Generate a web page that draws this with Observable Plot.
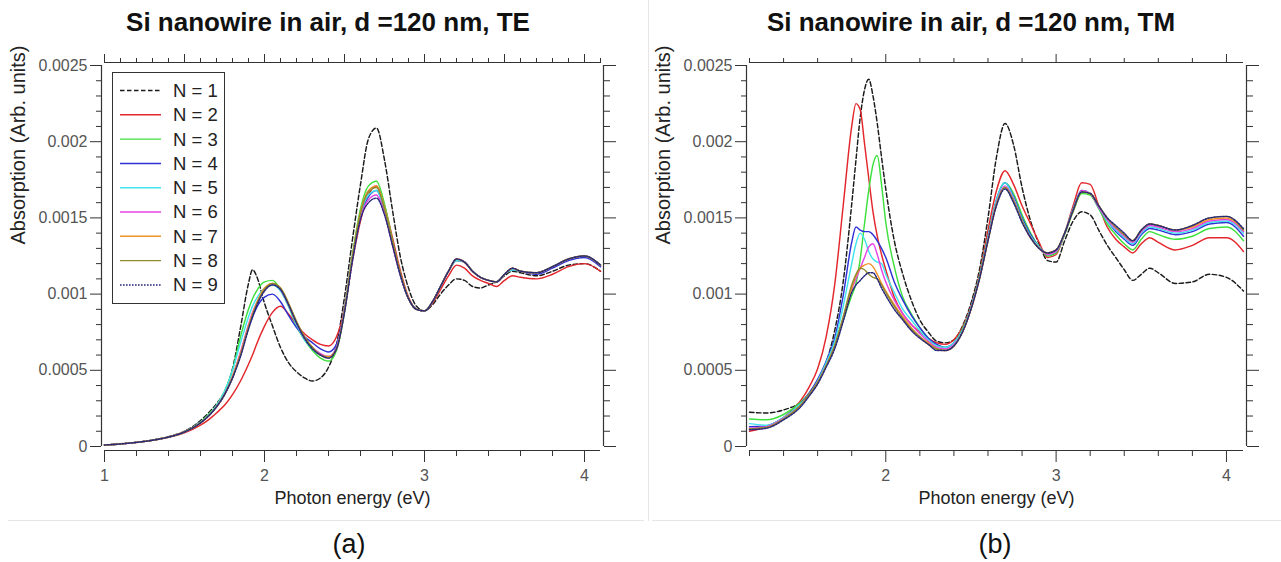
<!DOCTYPE html>
<html><head><meta charset="utf-8">
<script src="https://cdn.jsdelivr.net/npm/d3@7"></script>
<script src="https://cdn.jsdelivr.net/npm/@observablehq/plot@0.6"></script>
<style>
body{margin:0;background:#fff;font-family:"Liberation Sans",Arial,sans-serif;}
#root{position:relative;width:1281px;height:562px;overflow:hidden;background:#fff;}
.title{position:absolute;top:7px;font-weight:bold;font-size:26px;line-height:31px;white-space:nowrap;transform:translateX(-50%);color:#111;}
.cap{position:absolute;top:528px;font-size:27px;line-height:32px;white-space:nowrap;transform:translateX(-50%);color:#111;}
.sep{position:absolute;background:#e6e6e6;}
.panel{position:absolute;top:40px;}
.legend{position:absolute;left:112px;top:72px;width:113px;height:232px;border:1.5px solid #333;box-sizing:border-box;background:#fff;}
</style></head>
<body><div id="root"></div>
<script>
// ---------- data ----------
const seriesLabels = ["N = 1","N = 2","N = 3","N = 4","N = 5","N = 6","N = 7","N = 8","N = 9"];

// (a) TE
const teEnergy = [1.0,1.1,1.2,1.3,1.4,1.5,1.6,1.65,1.7,1.75,1.8,1.85,1.9,1.925,1.95,2.0,2.05,2.1,2.15,2.2,2.25,2.3,2.35,2.4,2.45,2.5,2.55,2.6,2.65,2.7,2.75,2.8,2.85,2.9,2.95,3.0,3.05,3.1,3.15,3.2,3.25,3.3,3.35,3.4,3.45,3.5,3.55,3.6,3.7,3.8,3.9,4.0,4.1];
const teN1 = [0.1e-4,0.18e-4,0.28e-4,0.42e-4,0.65e-4,1.0e-4,1.7e-4,2.2e-4,2.8e-4,3.6e-4,5.1e-4,7.8e-4,10.7e-4,11.6e-4,11.2e-4,9.4e-4,7.9e-4,6.5e-4,5.5e-4,4.9e-4,4.5e-4,4.3e-4,4.5e-4,5.2e-4,6.7e-4,9.8e-4,13.6e-4,17.2e-4,20.2e-4,20.9e-4,18.8e-4,15.5e-4,12.4e-4,10.4e-4,9.2e-4,8.9e-4,9.3e-4,10.0e-4,10.6e-4,11.0e-4,10.9e-4,10.5e-4,10.4e-4,10.6e-4,10.8e-4,11.2e-4,11.5e-4,11.4e-4,11.2e-4,11.5e-4,11.9e-4,12.0e-4,11.5e-4];
const teN2 = [0.1e-4,0.16e-4,0.26e-4,0.4e-4,0.6e-4,0.9e-4,1.4e-4,1.75e-4,2.2e-4,2.7e-4,3.4e-4,4.3e-4,5.4e-4,6.0e-4,6.7e-4,7.9e-4,8.8e-4,9.2e-4,8.7e-4,8.0e-4,7.4e-4,7.0e-4,6.7e-4,6.6e-4,7.2e-4,9.0e-4,12.2e-4,14.8e-4,16.5e-4,17.1e-4,15.8e-4,13.7e-4,11.5e-4,9.8e-4,9.0e-4,8.9e-4,9.4e-4,10.3e-4,11.2e-4,11.9e-4,11.7e-4,11.2e-4,10.9e-4,10.7e-4,10.5e-4,10.9e-4,11.2e-4,11.1e-4,11.0e-4,11.3e-4,11.8e-4,12.0e-4,11.5e-4];
const teN3 = [0.1e-4,0.17e-4,0.27e-4,0.41e-4,0.62e-4,0.95e-4,1.6e-4,2.1e-4,2.7e-4,3.6e-4,5.0e-4,7.2e-4,9.0e-4,9.7e-4,10.2e-4,10.8e-4,10.9e-4,10.3e-4,9.2e-4,7.9e-4,7.0e-4,6.3e-4,5.8e-4,5.6e-4,6.3e-4,8.8e-4,12.6e-4,15.6e-4,17.1e-4,17.4e-4,15.9e-4,13.5e-4,11.3e-4,9.7e-4,9.0e-4,8.9e-4,9.5e-4,10.5e-4,11.5e-4,12.2e-4,12.1e-4,11.5e-4,11.1e-4,10.9e-4,10.8e-4,11.3e-4,11.6e-4,11.5e-4,11.4e-4,11.8e-4,12.3e-4,12.5e-4,11.9e-4];
const teN4 = [0.1e-4,0.17e-4,0.27e-4,0.41e-4,0.62e-4,0.95e-4,1.55e-4,2.0e-4,2.6e-4,3.4e-4,4.5e-4,6.1e-4,7.8e-4,8.5e-4,9.1e-4,9.8e-4,10.0e-4,9.5e-4,8.6e-4,7.8e-4,7.2e-4,6.8e-4,6.4e-4,6.2e-4,6.7e-4,9.0e-4,12.4e-4,15.1e-4,16.4e-4,16.8e-4,15.5e-4,13.3e-4,11.2e-4,9.7e-4,9.0e-4,8.9e-4,9.5e-4,10.5e-4,11.5e-4,12.2e-4,12.1e-4,11.5e-4,11.1e-4,10.9e-4,10.8e-4,11.3e-4,11.6e-4,11.5e-4,11.3e-4,11.7e-4,12.2e-4,12.4e-4,11.8e-4];
const teN5 = [0.1e-4,0.17e-4,0.27e-4,0.41e-4,0.62e-4,0.95e-4,1.6e-4,2.05e-4,2.7e-4,3.6e-4,5.0e-4,6.8e-4,8.5e-4,9.2e-4,9.7e-4,10.4e-4,10.6e-4,10.2e-4,9.2e-4,8.0e-4,7.0e-4,6.4e-4,6.0e-4,5.9e-4,6.5e-4,8.9e-4,12.5e-4,15.2e-4,16.5e-4,16.8e-4,15.5e-4,13.3e-4,11.2e-4,9.7e-4,9.0e-4,8.9e-4,9.5e-4,10.5e-4,11.5e-4,12.2e-4,12.1e-4,11.5e-4,11.1e-4,10.9e-4,10.8e-4,11.3e-4,11.6e-4,11.5e-4,11.4e-4,11.8e-4,12.3e-4,12.5e-4,11.9e-4];
const teN6 = [0.1e-4,0.17e-4,0.27e-4,0.41e-4,0.62e-4,0.95e-4,1.55e-4,2.0e-4,2.6e-4,3.4e-4,4.6e-4,6.2e-4,8.0e-4,8.8e-4,9.4e-4,10.3e-4,10.7e-4,10.3e-4,9.3e-4,8.1e-4,7.1e-4,6.5e-4,6.1e-4,5.9e-4,6.5e-4,8.9e-4,12.3e-4,15.0e-4,16.2e-4,16.5e-4,15.3e-4,13.2e-4,11.2e-4,9.7e-4,9.0e-4,8.9e-4,9.5e-4,10.5e-4,11.5e-4,12.3e-4,12.1e-4,11.5e-4,11.1e-4,10.9e-4,10.8e-4,11.3e-4,11.7e-4,11.5e-4,11.4e-4,11.8e-4,12.3e-4,12.5e-4,11.9e-4];
const teN7 = [0.1e-4,0.17e-4,0.27e-4,0.41e-4,0.62e-4,0.95e-4,1.55e-4,2.0e-4,2.6e-4,3.4e-4,4.6e-4,6.1e-4,7.9e-4,8.7e-4,9.4e-4,10.4e-4,10.7e-4,10.4e-4,9.4e-4,8.2e-4,7.2e-4,6.5e-4,6.0e-4,5.9e-4,6.4e-4,8.9e-4,12.5e-4,15.4e-4,16.8e-4,17.1e-4,15.7e-4,13.4e-4,11.3e-4,9.7e-4,9.0e-4,8.9e-4,9.5e-4,10.5e-4,11.5e-4,12.3e-4,12.1e-4,11.5e-4,11.1e-4,10.9e-4,10.8e-4,11.3e-4,11.7e-4,11.5e-4,11.4e-4,11.8e-4,12.3e-4,12.5e-4,11.9e-4];
const teN8 = [0.1e-4,0.17e-4,0.27e-4,0.41e-4,0.62e-4,0.95e-4,1.55e-4,2.0e-4,2.6e-4,3.4e-4,4.5e-4,6.0e-4,7.8e-4,8.6e-4,9.3e-4,10.3e-4,10.7e-4,10.4e-4,9.4e-4,8.2e-4,7.2e-4,6.5e-4,6.0e-4,5.8e-4,6.4e-4,8.9e-4,12.5e-4,15.3e-4,16.7e-4,17.0e-4,15.6e-4,13.4e-4,11.3e-4,9.7e-4,9.0e-4,8.9e-4,9.5e-4,10.5e-4,11.5e-4,12.3e-4,12.1e-4,11.5e-4,11.1e-4,10.9e-4,10.8e-4,11.3e-4,11.7e-4,11.5e-4,11.4e-4,11.8e-4,12.3e-4,12.5e-4,11.9e-4];
const teN9 = [0.1e-4,0.17e-4,0.27e-4,0.41e-4,0.62e-4,0.95e-4,1.55e-4,2.0e-4,2.6e-4,3.4e-4,4.5e-4,5.9e-4,7.7e-4,8.5e-4,9.2e-4,10.2e-4,10.6e-4,10.3e-4,9.3e-4,8.1e-4,7.1e-4,6.4e-4,6.0e-4,5.8e-4,6.4e-4,8.8e-4,12.2e-4,14.9e-4,16.0e-4,16.3e-4,15.2e-4,13.2e-4,11.2e-4,9.7e-4,9.0e-4,8.9e-4,9.5e-4,10.5e-4,11.5e-4,12.3e-4,12.1e-4,11.5e-4,11.1e-4,10.9e-4,10.8e-4,11.3e-4,11.7e-4,11.5e-4,11.4e-4,11.8e-4,12.3e-4,12.5e-4,11.9e-4];

// (b) TM
const tmEnergy = [1.2,1.3,1.4,1.5,1.55,1.6,1.65,1.7,1.75,1.8,1.825,1.85,1.875,1.9,1.925,1.95,1.975,2.0,2.05,2.1,2.15,2.2,2.25,2.3,2.35,2.4,2.45,2.5,2.55,2.6,2.65,2.7,2.75,2.8,2.85,2.9,2.95,3.0,3.05,3.1,3.15,3.2,3.25,3.3,3.35,3.4,3.45,3.5,3.55,3.6,3.7,3.8,3.9,4.0,4.1];
const tmN1 = [2.25e-4,2.2e-4,2.4e-4,2.9e-4,3.4e-4,4.2e-4,5.5e-4,7.6e-4,10.8e-4,15.9e-4,18.8e-4,21.6e-4,23.4e-4,24.1e-4,23.0e-4,21.2e-4,19.0e-4,16.9e-4,13.5e-4,11.3e-4,9.6e-4,8.3e-4,7.5e-4,6.9e-4,6.8e-4,7.0e-4,7.9e-4,9.4e-4,11.6e-4,15.0e-4,19.0e-4,21.2e-4,19.8e-4,17.0e-4,14.8e-4,13.3e-4,12.2e-4,12.1e-4,13.5e-4,14.8e-4,15.4e-4,15.2e-4,14.2e-4,13.2e-4,12.4e-4,11.6e-4,10.9e-4,11.3e-4,11.7e-4,11.4e-4,10.7e-4,10.8e-4,11.3e-4,11.1e-4,10.2e-4];
const tmN2 = [1.0e-4,1.3e-4,1.9e-4,3.0e-4,3.9e-4,5.1e-4,7.2e-4,10.6e-4,15.8e-4,21.0e-4,22.5e-4,22.1e-4,19.9e-4,17.6e-4,15.4e-4,13.8e-4,12.6e-4,11.6e-4,9.8e-4,8.7e-4,8.0e-4,7.5e-4,7.1e-4,6.8e-4,6.7e-4,7.0e-4,7.8e-4,9.2e-4,11.3e-4,14.2e-4,16.8e-4,18.1e-4,17.2e-4,15.8e-4,14.6e-4,13.4e-4,12.4e-4,12.6e-4,14.0e-4,15.8e-4,17.3e-4,17.2e-4,15.8e-4,14.4e-4,13.6e-4,13.1e-4,12.7e-4,13.3e-4,13.7e-4,13.4e-4,12.9e-4,13.2e-4,13.7e-4,13.7e-4,12.8e-4];
const tmN3 = [1.8e-4,1.75e-4,2.1e-4,2.9e-4,3.5e-4,4.3e-4,5.4e-4,6.8e-4,8.3e-4,9.9e-4,10.7e-4,12.3e-4,14.6e-4,16.8e-4,18.5e-4,19.1e-4,17.2e-4,14.7e-4,11.8e-4,9.8e-4,8.7e-4,7.8e-4,7.1e-4,6.6e-4,6.5e-4,6.8e-4,7.7e-4,9.1e-4,11.2e-4,13.8e-4,16.2e-4,17.3e-4,16.6e-4,15.2e-4,14.0e-4,13.1e-4,12.5e-4,12.7e-4,13.9e-4,15.4e-4,16.6e-4,16.5e-4,15.6e-4,14.6e-4,13.9e-4,13.3e-4,12.9e-4,13.6e-4,14.1e-4,13.9e-4,13.6e-4,13.8e-4,14.3e-4,14.4e-4,13.5e-4];
const tmN4 = [1.3e-4,1.35e-4,1.9e-4,2.8e-4,3.5e-4,4.4e-4,5.6e-4,7.1e-4,9.9e-4,13.4e-4,14.4e-4,14.2e-4,14.1e-4,14.1e-4,13.9e-4,13.5e-4,13.0e-4,12.4e-4,10.8e-4,9.6e-4,8.6e-4,7.8e-4,7.1e-4,6.7e-4,6.5e-4,6.8e-4,7.6e-4,9.1e-4,11.1e-4,13.7e-4,16.2e-4,17.3e-4,16.4e-4,15.0e-4,13.9e-4,13.1e-4,12.6e-4,12.8e-4,14.0e-4,15.6e-4,16.8e-4,16.6e-4,15.7e-4,14.8e-4,14.1e-4,13.6e-4,13.2e-4,13.9e-4,14.3e-4,14.2e-4,13.9e-4,14.1e-4,14.6e-4,14.7e-4,13.8e-4];
const tmN5 = [1.5e-4,1.4e-4,1.9e-4,2.8e-4,3.4e-4,4.3e-4,5.5e-4,6.9e-4,9.2e-4,12.0e-4,13.3e-4,14.0e-4,13.6e-4,12.8e-4,12.3e-4,12.1e-4,12.0e-4,11.3e-4,10.1e-4,9.0e-4,8.3e-4,7.6e-4,7.0e-4,6.6e-4,6.5e-4,6.8e-4,7.6e-4,9.1e-4,11.1e-4,13.7e-4,16.2e-4,17.3e-4,16.3e-4,14.9e-4,13.8e-4,13.1e-4,12.6e-4,12.8e-4,14.0e-4,15.6e-4,16.8e-4,16.6e-4,15.7e-4,14.8e-4,14.2e-4,13.7e-4,13.3e-4,14.0e-4,14.4e-4,14.3e-4,14.0e-4,14.2e-4,14.7e-4,14.8e-4,14.0e-4];
const tmN6 = [1.2e-4,1.3e-4,1.85e-4,2.7e-4,3.4e-4,4.2e-4,5.3e-4,6.6e-4,8.4e-4,10.3e-4,11.0e-4,11.7e-4,12.4e-4,13.1e-4,13.3e-4,12.6e-4,11.6e-4,10.8e-4,9.6e-4,8.7e-4,8.0e-4,7.4e-4,6.9e-4,6.5e-4,6.4e-4,6.7e-4,7.5e-4,9.0e-4,11.0e-4,13.6e-4,16.0e-4,17.1e-4,16.2e-4,14.8e-4,13.7e-4,13.0e-4,12.6e-4,12.8e-4,14.0e-4,15.5e-4,16.8e-4,16.6e-4,15.7e-4,14.9e-4,14.3e-4,13.8e-4,13.4e-4,14.1e-4,14.5e-4,14.4e-4,14.1e-4,14.3e-4,14.8e-4,14.9e-4,14.1e-4];
const tmN7 = [1.15e-4,1.25e-4,1.8e-4,2.7e-4,3.4e-4,4.2e-4,5.3e-4,6.6e-4,8.4e-4,10.4e-4,11.2e-4,11.7e-4,11.9e-4,12.0e-4,11.8e-4,11.3e-4,10.7e-4,10.2e-4,9.3e-4,8.5e-4,7.8e-4,7.2e-4,6.8e-4,6.4e-4,6.3e-4,6.6e-4,7.5e-4,9.0e-4,11.0e-4,13.5e-4,15.9e-4,17.0e-4,16.1e-4,14.8e-4,13.7e-4,13.0e-4,12.7e-4,12.9e-4,14.0e-4,15.5e-4,16.7e-4,16.6e-4,15.8e-4,15.0e-4,14.4e-4,13.9e-4,13.5e-4,14.2e-4,14.6e-4,14.5e-4,14.2e-4,14.4e-4,14.9e-4,15.0e-4,14.2e-4];
const tmN8 = [1.15e-4,1.25e-4,1.8e-4,2.7e-4,3.4e-4,4.2e-4,5.3e-4,6.6e-4,8.5e-4,10.6e-4,11.3e-4,11.7e-4,11.6e-4,11.3e-4,11.1e-4,11.0e-4,10.6e-4,10.1e-4,9.2e-4,8.4e-4,7.7e-4,7.2e-4,6.7e-4,6.4e-4,6.3e-4,6.6e-4,7.5e-4,9.0e-4,11.0e-4,13.5e-4,15.9e-4,17.0e-4,16.1e-4,14.8e-4,13.7e-4,13.0e-4,12.7e-4,12.9e-4,14.0e-4,15.5e-4,16.7e-4,16.6e-4,15.8e-4,15.0e-4,14.4e-4,13.9e-4,13.5e-4,14.2e-4,14.6e-4,14.5e-4,14.2e-4,14.5e-4,15.0e-4,15.1e-4,14.2e-4];
const tmN9 = [1.1e-4,1.2e-4,1.75e-4,2.6e-4,3.3e-4,4.1e-4,5.2e-4,6.4e-4,8.2e-4,10.1e-4,10.6e-4,10.9e-4,11.2e-4,11.4e-4,11.4e-4,11.0e-4,10.4e-4,9.9e-4,9.0e-4,8.3e-4,7.6e-4,7.1e-4,6.7e-4,6.3e-4,6.3e-4,6.6e-4,7.5e-4,9.0e-4,11.0e-4,13.5e-4,15.8e-4,16.9e-4,16.0e-4,14.7e-4,13.7e-4,13.0e-4,12.7e-4,12.9e-4,14.0e-4,15.5e-4,16.7e-4,16.6e-4,15.8e-4,15.0e-4,14.5e-4,14.0e-4,13.5e-4,14.2e-4,14.6e-4,14.5e-4,14.2e-4,14.5e-4,15.0e-4,15.1e-4,14.3e-4];

// axes / ticks
const yDomain = [0, 0.0025];
const yMajorTicks = [0, 0.0005, 0.001, 0.0015, 0.002, 0.0025];
const yTickLabels = ["0", "0.0005", "0.001", "0.0015", "0.002", "0.0025"];
const yMinorTicks = [0.0001,0.0002,0.0003,0.0004,0.0006,0.0007,0.0008,0.0009,0.0011,0.0012,0.0013,0.0014,0.0016,0.0017,0.0018,0.0019,0.0021,0.0022,0.0023,0.0024];

const teXDomain = [1, 4.1];
const teXMajor = [1, 2, 3, 4];
const teXLabels = ["1", "2", "3", "4"];
const teXMinor = [1.2,1.4,1.6,1.8,2.2,2.4,2.6,2.8,3.2,3.4,3.6,3.8];
const teTopMajor = [1, 1.5, 2, 2.5, 3, 3.5, 4];
const teTopMinor = [1.1,1.2,1.3,1.4,1.6,1.7,1.8,1.9,2.1,2.2,2.3,2.4,2.6,2.7,2.8,2.9,3.1,3.2,3.3,3.4,3.6,3.7,3.8,3.9,4.1];

const tmXDomain = [1.2, 4.1];
const tmXMajor = [2, 3, 4];
const tmXLabels = ["2", "3", "4"];
const tmXMinor = [1.2,1.4,1.6,1.8,2.2,2.4,2.6,2.8,3.2,3.4,3.6,3.8];

const titles = ["Si nanowire in air, d =120 nm, TE", "Si nanowire in air, d =120 nm, TM"];
const captions = ["(a)", "(b)"];
const xLabel = "Photon energy (eV)";
const yLabel = "Absorption (Arb. units)";

// ---------- styles ----------
const seriesColors = ["#1a1a1a","#e3262b","#3ee03e","#2e32d4","#40e4ec","#e444e6","#f2902c","#8e8a2e","#25257c"];
const seriesDash = ["4.5,2.5", null, null, null, null, null, null, null, "1.6,1.4"];
const axisColor = "#333";
const labelColor = "#555";

function rows(energy, values) { return energy.map((E, i) => ({E, A: values[i]})); }

function makePanel(cfg) {
  const fmtY = d => yTickLabels[yMajorTicks.indexOf(d)];
  const fmtX = d => cfg.xLabels[cfg.xMajor.indexOf(d)];
  const blank = () => "";
  const lines = cfg.series.map((vals, k) => Plot.line(rows(cfg.energy, vals), {
    x: "E", y: "A", stroke: seriesColors[k], strokeWidth: 1.45,
    strokeDasharray: seriesDash[k] || undefined, curve: "monotone-x"
  }));
  return Plot.plot({
    width: cfg.width, height: 480,
    marginLeft: cfg.marginLeft, marginRight: cfg.marginRight, marginTop: 22, marginBottom: 70,
    insetLeft: 3, insetRight: 3, insetTop: 3, insetBottom: 4,
    x: {domain: cfg.xDomain},
    y: {domain: yDomain},
    style: {fontFamily: "'Liberation Sans', Arial, sans-serif", fontSize: "16px", color: axisColor, background: "transparent", overflow: "visible"},
    marks: [
      // axis lines
      Plot.ruleX([cfg.xDomain[0]], {y1: yDomain[0], y2: yDomain[1], dx: -3, stroke: axisColor, strokeWidth: 1.2}),
      Plot.ruleX([cfg.xDomain[1]], {y1: yDomain[0], y2: yDomain[1], dx: 3, stroke: axisColor, strokeWidth: 1.2}),
      Plot.ruleY([yDomain[0]], {x1: cfg.xDomain[0], x2: cfg.xDomain[1], dy: 4, stroke: axisColor, strokeWidth: 1.2}),
      Plot.ruleY([yDomain[1]], {x1: cfg.xDomain[0], x2: cfg.xDomain[1], dy: -3, stroke: axisColor, strokeWidth: 1.2}),
      // y axes
      Plot.axisY(yMinorTicks, {anchor: "left", tickSize: 5, tickFormat: blank, label: null, stroke: axisColor}),
      Plot.axisY(yMajorTicks, {anchor: "left", tickSize: 11, tickPadding: 3, tickFormat: fmtY, label: null, stroke: axisColor, fill: labelColor, fontSize: 16}),
      Plot.axisY(yMinorTicks, {anchor: "right", tickSize: 6, tickFormat: blank, label: null, stroke: axisColor}),
      Plot.axisY(yMajorTicks, {anchor: "right", tickSize: 12, tickFormat: blank, label: null, stroke: axisColor}),
      // x axes
      Plot.axisX(cfg.xMinor, {anchor: "bottom", tickSize: 6, tickFormat: blank, label: null, stroke: axisColor}),
      Plot.axisX(cfg.xMajor, {anchor: "bottom", tickSize: 12, tickPadding: 7, tickFormat: fmtX, label: null, stroke: axisColor, fill: labelColor, fontSize: 16}),
      Plot.axisX(cfg.topMinor, {anchor: "top", tickSize: 5, tickFormat: blank, label: null, stroke: axisColor}),
      Plot.axisX(cfg.topMajor, {anchor: "top", tickSize: 9, tickFormat: blank, label: null, stroke: axisColor}),
      // axis titles
      Plot.text([xLabel], {text: d => d, frameAnchor: "bottom", dy: 53, fontSize: 18, fill: "#222"}),
      Plot.text([yLabel], {text: d => d, frameAnchor: "left", rotate: -90, dx: -83, dy: -12, fontSize: 20, fill: "#222"}),
      ...lines
    ]
  });
}

const root = document.getElementById("root");

function addDiv(cls, styleText, text) {
  const d = document.createElement("div");
  d.className = cls;
  d.setAttribute("style", styleText);
  if (text != null) d.textContent = text;
  root.appendChild(d);
  return d;
}

// separators
addDiv("sep", "left:8px;top:520px;width:636px;height:1px;");
addDiv("sep", "left:652px;top:520px;width:629px;height:1px;");
addDiv("sep", "left:648px;top:0px;width:1px;height:521px;");

// panel a
const pa = makePanel({
  width: 640, marginLeft: 101, marginRight: 37,
  energy: teEnergy, series: [teN1, teN2, teN3, teN4, teN5, teN6, teN7, teN8, teN9],
  xDomain: teXDomain, xMajor: teXMajor, xLabels: teXLabels, xMinor: teXMinor,
  topMajor: teTopMajor, topMinor: teTopMinor
});
const wa = addDiv("panel", "left:0px;");
wa.appendChild(pa);

// panel b
const pb = makePanel({
  width: 641, marginLeft: 106, marginRight: 35,
  energy: tmEnergy, series: [tmN1, tmN2, tmN3, tmN4, tmN5, tmN6, tmN7, tmN8, tmN9],
  xDomain: tmXDomain, xMajor: tmXMajor, xLabels: tmXLabels, xMinor: tmXMinor,
  topMajor: tmXMajor, topMinor: tmXMinor
});
const wb = addDiv("panel", "left:640px;");
wb.appendChild(pb);

// titles & captions
addDiv("title", "left:328px;", titles[0]);
addDiv("title", "left:971px;", titles[1]);
addDiv("cap", "left:349px;", captions[0]);
addDiv("cap", "left:995px;", captions[1]);

// legend
const leg = addDiv("legend", "");
const lsvg = d3.select(leg).append("svg").attr("width", 110).attr("height", 229).style("display", "block");
seriesLabels.forEach((lab, i) => {
  const y = 17.5 + i * 24.3;
  lsvg.append("line").attr("x1", 7).attr("x2", 48).attr("y1", y).attr("y2", y)
    .attr("stroke", seriesColors[i]).attr("stroke-width", 1.45)
    .attr("stroke-dasharray", seriesDash[i] || null);
  lsvg.append("text").attr("x", 60).attr("y", y).attr("dy", "0.35em")
    .attr("font-family", "'Liberation Sans', Arial, sans-serif").attr("font-size", 18.5)
    .attr("fill", "#222").text(lab);
});
</script>
</body></html>
